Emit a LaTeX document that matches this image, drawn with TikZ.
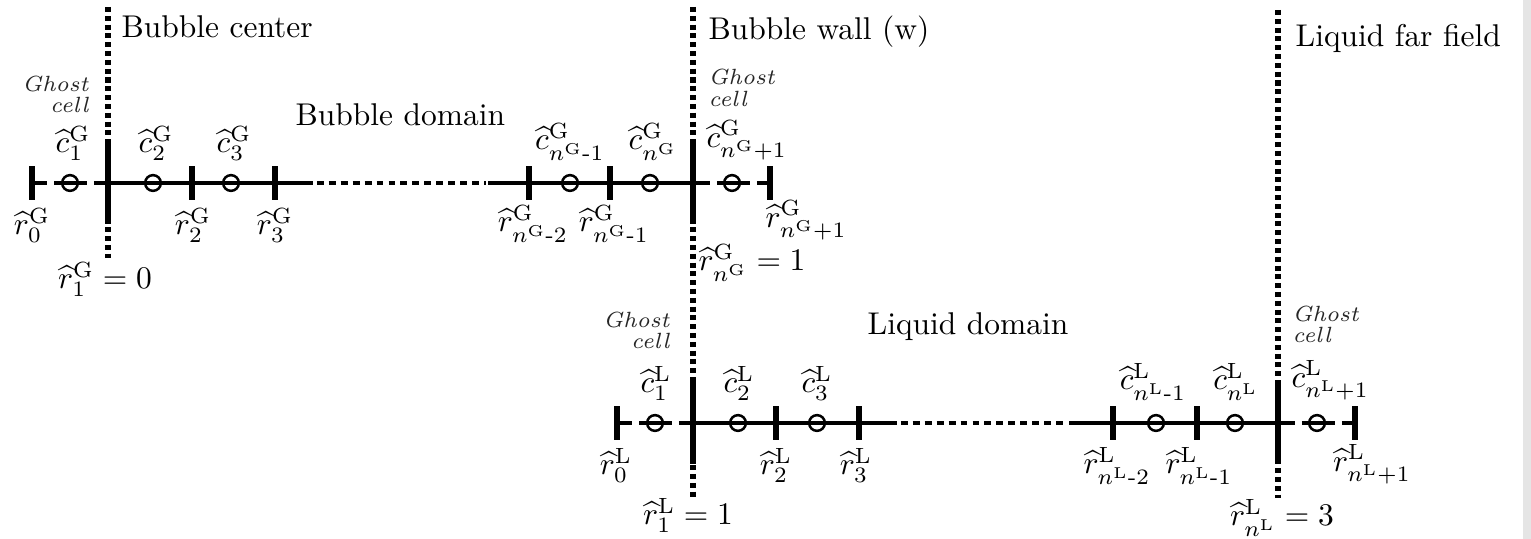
\documentclass[tikz,border=0pt]{standalone}
\usepackage{amsmath}
\newcommand\rhG[1]{\widehat{r}^{\mathrm{G}}_{#1}}
\newcommand\chG[1]{\widehat{c}^{\mathrm{G}}_{#1}}
\newcommand\rhL[1]{\widehat{r}^{\mathrm{L}}_{#1}}
\newcommand\chL[1]{\widehat{c}^{\mathrm{L}}_{#1}}
\newcommand\nG{n^{\mathrm{G}}}
\newcommand\nL{n^{\mathrm{L}}}
\begin{document}
\begin{tikzpicture}[x=0.011166cm,y=-0.011166cm,
  axis/.style={line width=1.1pt},
  ghostL/.style={line width=1.1pt,dash pattern=on 4.8pt off 2.2pt on 10.5pt off 2.2pt on 12pt},
  ghostR/.style={line width=1.1pt,dash pattern=on 5.4pt off 2.2pt on 10.5pt off 2.2pt on 12pt},
  gapline/.style={line width=1.3pt,dash pattern=on 2.2pt off 1.6pt},
  vdots/.style={line width=1.6pt,dash pattern=on 1.6pt off 1.2pt},
  tickbox/.style={rectangle,fill=black,inner sep=0pt,minimum width=1.6pt,minimum height=11pt},
  wallbox/.style={rectangle,fill=black,inner sep=0pt,minimum width=1.6pt,minimum height=26pt},
  cellc/.style={circle,draw,line width=0.8pt,minimum size=5pt,inner sep=0pt},
  lab/.style={inner sep=0pt},
  ghosttxt/.style={inner sep=0pt,font=\fontsize{7}{8}\selectfont\itshape,text=black!85},
  title/.style={inner sep=0pt,anchor=base west}]
\useasboundingbox (0,0) rectangle (1531,539);
\fill[white] (0,0) rectangle (1531,539);
\fill[black!10] (1523,0) rectangle (1531,539);

% vertical boundary lines
\coordinate (bctop) at (108,7);   \coordinate (bcbot) at (108,258);
\coordinate (bwtop) at (693,7);   \coordinate (bwbot) at (693,498);
\coordinate (fftop) at (1278,10); \coordinate (ffbot) at (1278,498);
\draw[vdots] (bctop) -- (bcbot);
\draw[vdots] (bwtop) -- (bwbot);
\draw[vdots] (fftop) -- (ffbot);

% ---------------- bubble domain ----------------
\node[tickbox] (rG0) at (32,183) {};
\node[wallbox] (rG1) at (108,183) {};
\node[tickbox] (rG2) at (192,183) {};
\node[tickbox] (rG3) at (275,183) {};
\coordinate (bg1) at (313,183);
\coordinate (bg2) at (488,183);
\node[tickbox] (rGm2) at (529,183) {};
\node[tickbox] (rGm1) at (610,183) {};
\node[wallbox] (rGn) at (693,183) {};
\node[tickbox] (rGp1) at (770,183) {};

\node[cellc] (cG1) at (70,183) {};
\node[cellc] (cG2) at (153,183) {};
\node[cellc] (cG3) at (231,183) {};
\node[cellc] (cGm1) at (570,183) {};
\node[cellc] (cGn) at (650,183) {};
\node[cellc] (cGp1) at (732,183) {};

\draw[ghostL] (rG0.center) -- (rG1.center);
\draw[axis] (rG1.center) -- (bg1);
\draw[gapline] ([xshift=1.2pt]bg1) -- ([xshift=-0.6pt]bg2);
\draw[axis] (bg2) -- (rGn.center);
\draw[ghostR] (rGn.center) -- (rGp1.center);

\node[lab,anchor=south] at (73,161) {$\chG{1}$};
\node[lab,anchor=south] at (156,161) {$\chG{2}$};
\node[lab,anchor=south] at (234,161) {$\chG{3}$};
\node[lab,anchor=south] at (570,161) {$\chG{\nG\text{-}1}$};
\node[lab,anchor=south] at (653,161) {$\chG{\nG}$};
\node[lab,anchor=south west] at (706,161) {$\chG{\nG+1}$};

\node[lab,anchor=south] at (32,243) {$\rhG{0}$};
\node[lab,anchor=south] at (193,243) {$\rhG{2}$};
\node[lab,anchor=south] at (275,243) {$\rhG{3}$};
\node[lab,anchor=south] at (533,243) {$\rhG{\nG\text{-}2}$};
\node[lab,anchor=south] at (614,243) {$\rhG{\nG\text{-}1}$};
\node[lab,anchor=north west] at (765,200) {$\rhG{\nG+1}$};
\node[lab,anchor=south] at (105,297) {$\rhG{1}=0$};
\node[lab,anchor=south west] at (698,282) {$\rhG{\nG}=1$};

% ---------------- liquid domain ----------------
\node[tickbox] (rL0) at (617,423) {};
\node[wallbox] (rL1) at (693,423) {};
\node[tickbox] (rL2) at (776,423) {};
\node[tickbox] (rL3) at (859,423) {};
\coordinate (lg1) at (897,423);
\coordinate (lg2) at (1069,423);
\node[tickbox] (rLm2) at (1113,423) {};
\node[tickbox] (rLm1) at (1197,423) {};
\node[wallbox] (rLn) at (1278,423) {};
\node[tickbox] (rLp1) at (1355,423) {};

\node[cellc] (cL1) at (655,423) {};
\node[cellc] (cL2) at (738,423) {};
\node[cellc] (cL3) at (817,423) {};
\node[cellc] (cLm1) at (1156,423) {};
\node[cellc] (cLn) at (1235,423) {};
\node[cellc] (cLp1) at (1317,423) {};

\draw[ghostL] (rL0.center) -- (rL1.center);
\draw[axis] (rL1.center) -- (lg1);
\draw[gapline] ([xshift=1.2pt]lg1) -- ([xshift=-0.6pt]lg2);
\draw[axis] (lg2) -- (rLn.center);
\draw[ghostR] (rLn.center) -- (rLp1.center);

\node[lab,anchor=south] at (656,401) {$\chL{1}$};
\node[lab,anchor=south] at (739,401) {$\chL{2}$};
\node[lab,anchor=south] at (817,401) {$\chL{3}$};
\node[lab,anchor=south] at (1153,401) {$\chL{\nL\text{-}1}$};
\node[lab,anchor=south] at (1236,401) {$\chL{\nL}$};
\node[lab,anchor=south west] at (1291,401) {$\chL{\nL+1}$};

\node[lab,anchor=south] at (616,483) {$\rhL{0}$};
\node[lab,anchor=south] at (776,483) {$\rhL{2}$};
\node[lab,anchor=south] at (856,483) {$\rhL{3}$};
\node[lab,anchor=south] at (1117,485) {$\rhL{\nL\text{-}2}$};
\node[lab,anchor=south] at (1199,485) {$\rhL{\nL\text{-}1}$};
\node[lab,anchor=south] at (1372,485) {$\rhL{\nL+1}$};
\node[lab,anchor=south] at (688,533) {$\rhL{1}=1$};
\node[lab,anchor=south] at (1282,537) {$\rhL{\nL}=3$};

% ---------------- texts ----------------
\node[title] (tbc) at (121,38) {Bubble center};
\node[title] (tbw) at (708,40) {Bubble wall (w)};
\node[title] (tff) at (1295,47) {Liquid far field};
\node[title] (tbd) at (295,126) {Bubble domain};
\node[title] (tld) at (867,335) {Liquid domain};

\node[ghosttxt,anchor=base east] (g1a) at (89,92) {Ghost};
\node[ghosttxt,anchor=base east] (g1b) at (89,113) {cell};
\node[ghosttxt,anchor=base west] (g2a) at (708,85) {Ghost};
\node[ghosttxt,anchor=base west] (g2b) at (708,107) {cell};
\node[ghosttxt,anchor=base east] (g3a) at (670,328) {Ghost};
\node[ghosttxt,anchor=base east] (g3b) at (670,349) {cell};
\node[ghosttxt,anchor=base west] (g4a) at (1292,322) {Ghost};
\node[ghosttxt,anchor=base west] (g4b) at (1292,343) {cell};
\end{tikzpicture}
\end{document}
